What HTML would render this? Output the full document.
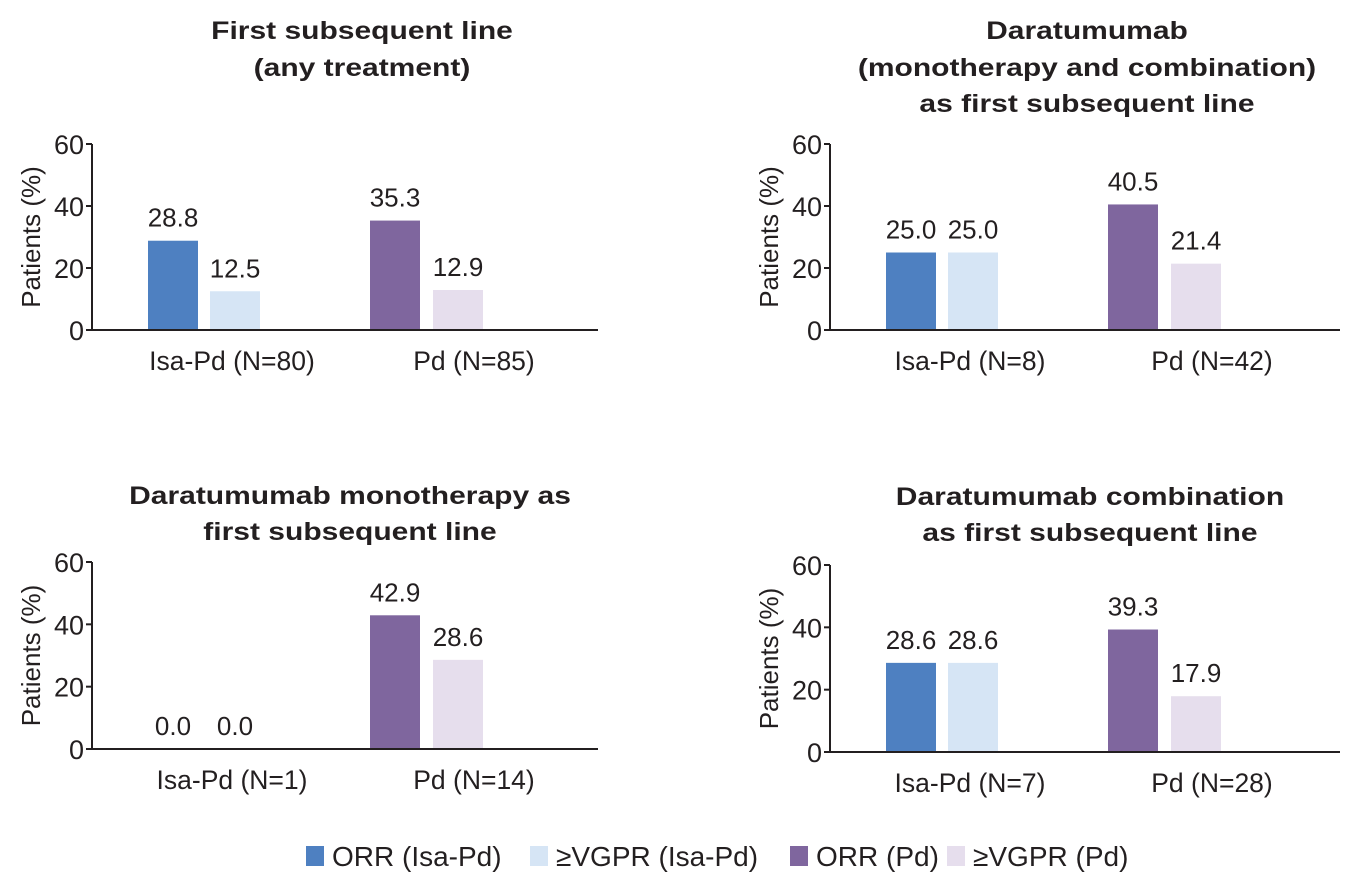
<!DOCTYPE html>
<html><head><meta charset="utf-8"><style>
body{margin:0;background:#fff;width:1368px;height:882px;overflow:hidden}
svg{font-family:"Liberation Sans",sans-serif}
</style></head><body>
<svg id="s" width="1368" height="882" xmlns="http://www.w3.org/2000/svg"></svg>
<script>
const titles=[["First subsequent line","(any treatment)"],["Daratumumab","(monotherapy and combination)","as first subsequent line"],["Daratumumab monotherapy as","first subsequent line"],["Daratumumab combination","as first subsequent line"]];
const groupLabels=[["Isa-Pd (N=80)","Pd (N=85)"],["Isa-Pd (N=8)","Pd (N=42)"],["Isa-Pd (N=1)","Pd (N=14)"],["Isa-Pd (N=7)","Pd (N=28)"]];
const orrIsa=[28.8,25.0,0.0,28.6];
const vgprIsa=[12.5,25.0,0.0,28.6];
const orrPd=[35.3,40.5,42.9,39.3];
const vgprPd=[12.9,21.4,28.6,17.9];
const ticks=[0,20,40,60];
const seriesNames=["ORR (Isa-Pd)","≥VGPR (Isa-Pd)","ORR (Pd)","≥VGPR (Pd)"];
const colors=["#4e80c1","#d6e5f5","#7f669e","#e6deed"];
const panels=[{ox:92,y0:330,y60:144,xr:598,tx:362,ty:[39,76]},{ox:830,y0:330,y60:144,xr:1340,tx:1087,ty:[39,76,112]},{ox:92,y0:749,y60:562,xr:598,tx:350,ty:[504,540]},{ox:830,y0:752,y60:565,xr:1340,tx:1090,ty:[505,541]}];
const S=document.getElementById('s');const NS="http://www.w3.org/2000/svg";
function mk(t,a,txt){const e=document.createElementNS(NS,t);for(const k in a)e.setAttribute(k,a[k]);if(txt!==undefined)e.textContent=txt;S.appendChild(e);return e;}
function stretch(e,f){const w=e.getComputedTextLength();e.setAttribute('textLength',w*f);e.setAttribute('lengthAdjust','spacingAndGlyphs');}
panels.forEach((p,i)=>{
 const y=v=>p.y0-(v/60)*(p.y0-p.y60);
 titles[i].forEach((t,j)=>{const e=mk('text',{x:p.tx,y:p.ty[j],'text-anchor':'middle','font-size':25,'font-weight':'bold',fill:'#231f20'},t);
 
 
 stretch(e,1.2);});
 const ya=mk('line',{x1:p.ox,y1:p.y60,x2:p.ox,y2:p.y0,stroke:'#231f20','stroke-width':2});
 
 
 const xa=mk('line',{x1:p.ox-6,y1:p.y0,x2:p.xr,y2:p.y0,stroke:'#231f20','stroke-width':2});
 
 
 ticks.forEach(t=>{mk('line',{x1:p.ox-6,y1:y(t),x2:p.ox,y2:y(t),stroke:'#231f20','stroke-width':2});
  const e=mk('text',{x:p.ox-8,y:y(t)+10,'text-anchor':'end','font-size':27,fill:'#231f20'},t);
  
  });
 const yl=mk('text',{x:0,y:0,transform:`translate(${p.ox-52},${(p.y0+p.y60)/2}) rotate(-90)`,'text-anchor':'middle','font-size':26,fill:'#231f20'},'Patients (%)');
 
 
 const vals=[orrIsa[i],vgprIsa[i],orrPd[i],vgprPd[i]];
 const bx=[56,118,278,341];
 vals.forEach((v,k)=>{const x=p.ox+bx[k];
  const r=mk('rect',{x:x,y:y(v),width:50,height:p.y0-y(v)-1,fill:colors[k]});
  
  
  const l=mk('text',{x:x+25,y:y(v)-14,'text-anchor':'middle','font-size':26,fill:'#231f20'},v.toFixed(1));
  
  });
 groupLabels[i].forEach((g,k)=>{const e=mk('text',{x:p.ox+[140,382][k],y:p.y0+40,'text-anchor':'middle','font-size':26.5,fill:'#231f20'},g);
  
  });
});
const lx=[306,530,790,947];
seriesNames.forEach((n,k)=>{const r=mk('rect',{x:lx[k],y:846,width:18,height:20,fill:colors[k]});
 
 
 const t=mk('text',{x:lx[k]+26,y:866,'font-size':28,fill:'#231f20'},n);
 
 });
</script>
</body></html>
